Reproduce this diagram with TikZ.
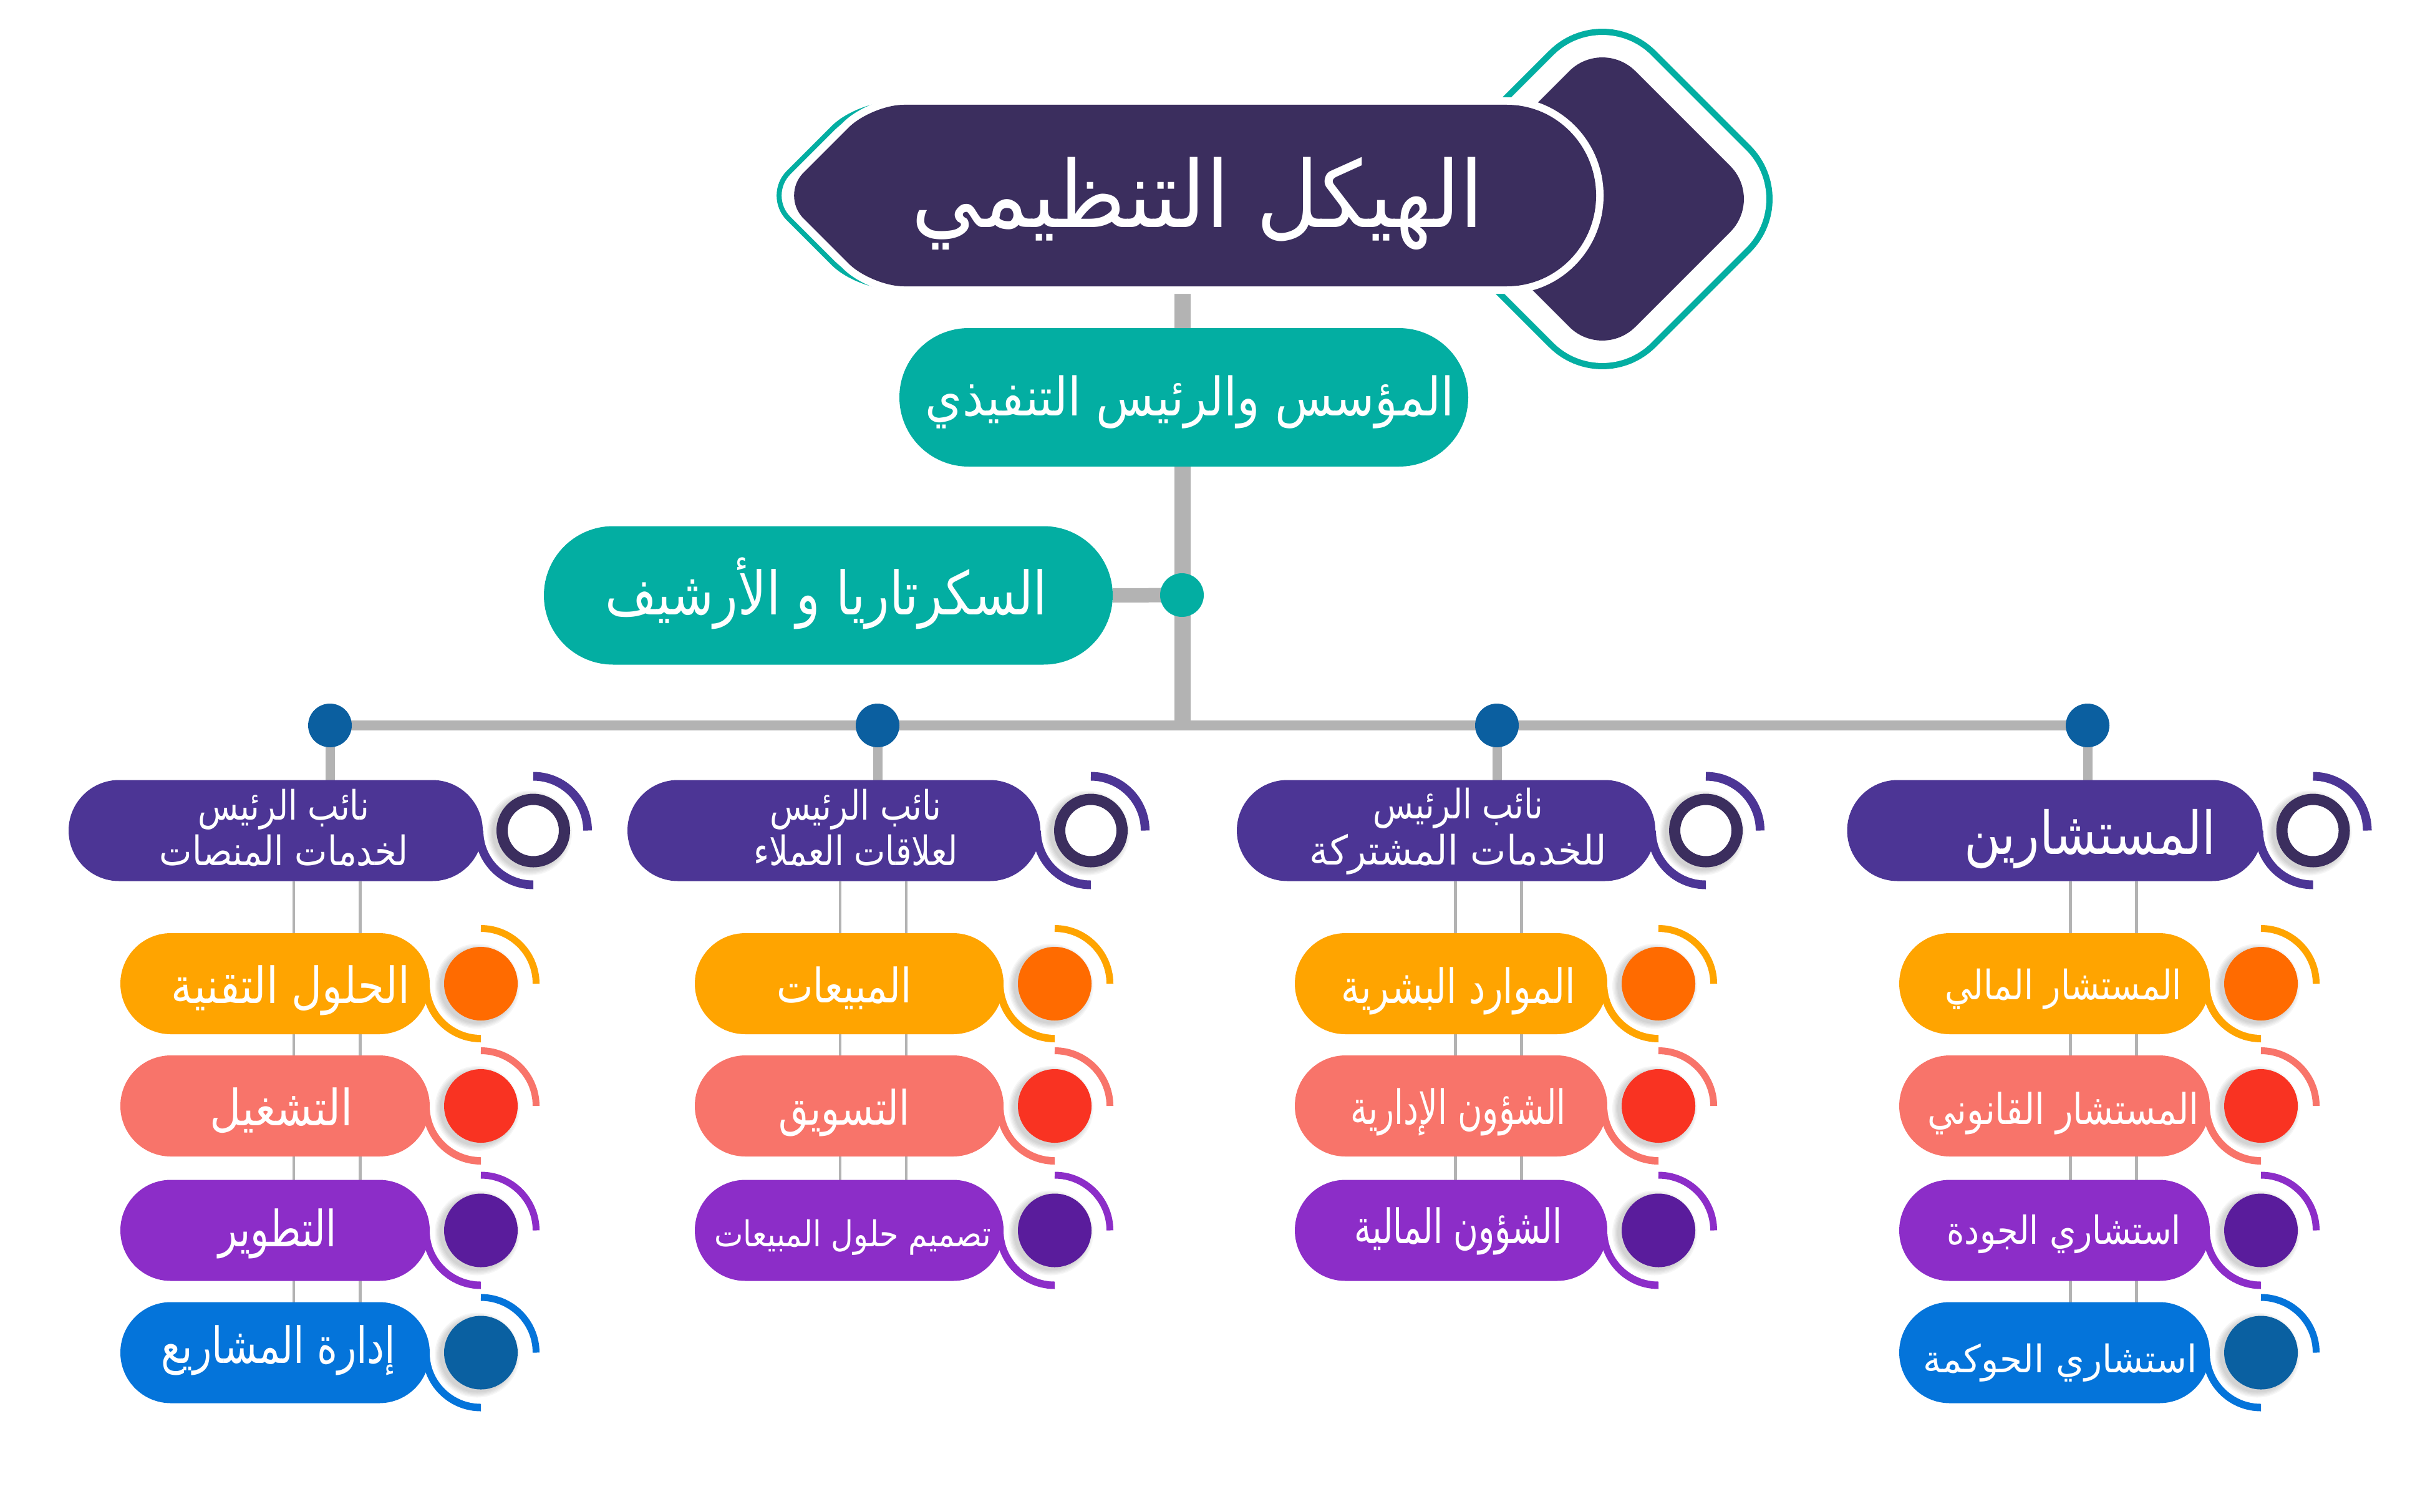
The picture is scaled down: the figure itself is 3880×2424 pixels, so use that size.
\documentclass[tikz,border=0pt]{standalone}
\usepackage{fontspec}
\usepackage{graphicx}
\usetikzlibrary{backgrounds}
\newfontfamily\arabicfont[Script=Arabic]{DejaVu Sans}
\TeXXeTstate=1
\definecolor{titlepurple}{HTML}{3B2E5E}
\definecolor{tealc}{HTML}{03AEA2}
\definecolor{headpurple}{HTML}{4C3595}
\definecolor{ringdark}{HTML}{3B2E5E}
\definecolor{greyline}{HTML}{B3B3B3}
\definecolor{dotblue}{HTML}{0B5FA0}
\definecolor{rowAf}{HTML}{FFA400}\definecolor{rowAc}{HTML}{FF6B00}
\definecolor{rowBf}{HTML}{F8746A}\definecolor{rowBc}{HTML}{F93322}
\definecolor{rowCf}{HTML}{8C2DC8}\definecolor{rowCc}{HTML}{5A1C9C}
\definecolor{rowDf}{HTML}{0474DA}\definecolor{rowDc}{HTML}{0A60A1}

% font size, target width, right-to-left text
\newcommand\artext[3]{\resizebox{#2pt}{\height}{\arabicfont\fontsize{#1}{#1}\selectfont #3}}

\tikzset{
  txt/.style={anchor=base, inner sep=0pt, outer sep=0pt, text=white},
  stadium/.style={rectangle, rounded corners=81pt, minimum height=162pt, inner sep=0pt, outer sep=0pt, draw=none},
  bigpill/.style={rectangle, rounded corners=111pt, minimum height=222pt, minimum width=912pt, inner sep=0pt, outer sep=0pt, draw=none, fill=tealc},
  busdot/.style={circle, fill=dotblue, minimum size=70pt, inner sep=0pt, outer sep=0pt, draw=none},
  thinline/.style={draw=greyline, line width=4.5pt},
}

% sub item: name, left x, circle cx, cy, fill colour, circle colour
\newcommand\drawsub[6]{%
  \pgfmathsetmacro\myR{#3-82}%
  \pgfmathsetmacro\mymx{(#2+\myR)/2}%
  \pgfmathsetmacro\myw{\myR-#2}%
  \node[stadium, fill=#5, minimum width=\myw pt] (#1) at (\mymx,#4) {};
  \fill[#5] (#3,#4) -- ++(-94,0) arc[start angle=180,end angle=270,radius=94pt] -- cycle;
  \fill[white] (#3,#4) circle[radius=82pt];
  \foreach \k in {1,...,5}{\fill[black,opacity=0.035] (#3-6,#4+4) circle[radius={58pt+2pt*\k}];}
  \fill[#6] (#3,#4) circle[radius=59pt];
  \draw[#5, line width=11pt] (#3+88.5,#4) arc[start angle=0,end angle=90,radius=88.5pt];
}
% header: name, left x, ring cx, cy
\newcommand\drawhead[4]{%
  \pgfmathsetmacro\myR{#3-81}%
  \pgfmathsetmacro\mymx{(#2+\myR)/2}%
  \pgfmathsetmacro\myw{\myR-#2}%
  \node[stadium, fill=headpurple, minimum width=\myw pt] (#1) at (\mymx,#4) {};
  \fill[headpurple] (#3,#4) -- ++(-94,0) arc[start angle=180,end angle=270,radius=94pt] -- cycle;
  \fill[white] (#3,#4) circle[radius=80pt];
  \foreach \k in {1,...,5}{\fill[black,opacity=0.035] (#3-6,#4+4) circle[radius={58pt+2pt*\k}];}
  \draw[ringdark, line width=18pt, fill=white] (#3,#4) circle[radius=50pt];
  \draw[headpurple, line width=14pt] (#3+87,#4) arc[start angle=0,end angle=90,radius=87pt];
}

\begin{document}
\begin{tikzpicture}[x=1pt,y=-1pt]
\useasboundingbox (0,0) rectangle (3880,2424);

% ---- diamond behind the title
\path[rounded corners=75pt, fill=titlepurple,
      preaction={draw=tealc, line width=92pt},
      preaction={draw=white, line width=72pt}]
  (2569,61) -- (2827,319) -- (2569,577) -- (2311,319) -- cycle;

% ---- teal outline at the left of the title
\draw[tealc, line width=8pt, xshift=-24pt]
  (1500,168) -- (1449,168) .. controls (1420.4,168) and (1380.4,184.6) .. (1360.2,204.8)
  -- (1288.3,276.7) .. controls (1268.1,296.9) and (1268.1,330.1) .. (1288.3,350.3)
  -- (1360.2,422.2) .. controls (1380.4,442.4) and (1420.4,459) .. (1449,459) -- (1500,459);

% ---- title shape
\path[fill=titlepurple, preaction={draw=white, line width=24pt}]
  (2416,168) -- (1449,168) .. controls (1420.4,168) and (1380.4,184.6) .. (1360.2,204.8)
  -- (1288.3,276.7) .. controls (1268.1,296.9) and (1268.1,330.1) .. (1288.3,350.3)
  -- (1360.2,422.2) .. controls (1380.4,442.4) and (1420.4,459) .. (1449,459)
  -- (2416,459) arc[start angle=-90, end angle=90, x radius=143pt, y radius=145.5pt] -- cycle;
\node[txt] (ttl) at (1920,364) {\artext{148}{918}{\beginR الهيكل التنظيمي\endR}};
\coordinate (barTop) at (1896,459);
\coordinate (barBot) at (1896,1163);

% ---- CEO and secretary
\node[bigpill] (ceo) at (1898,637) {};
\node[txt] (ceoT) at (1907.5,666) {\artext{85}{847}{\beginR المؤسس والرئيس التنفيذي\endR}};
\node[bigpill] (sec) at (1328,954.5) {};
\node[txt] (secT) at (1325,985) {\artext{96}{708}{\beginR السكرتاريا و الأرشيف\endR}};
\node[circle, fill=tealc, minimum size=70pt, inner sep=0pt, outer sep=0pt] (sdot) at (1895,954) {};

% ---- bus dots
\node[busdot] (d1) at (529,1163) {};
\node[busdot] (d2) at (1407,1163) {};
\node[busdot] (d3) at (2400,1163) {};
\node[busdot] (d4) at (3347,1163) {};

% ---- headers
\drawhead{h1}{110}{855}{1331.5}
\drawhead{h2}{1006}{1749}{1331.5}
\drawhead{h3}{1983}{2735}{1331.5}
\drawhead{h4}{2961.5}{3708.5}{1331.5}
\node[txt] (h1a) at (455,1314) {\artext{65}{274}{\beginR نائب الرئيس\endR}};
\node[txt] (h1b) at (455,1387) {\artext{65}{398}{\beginR لخدمات المنصات\endR}};
\node[txt] (h2a) at (1372,1314) {\artext{65}{275}{\beginR نائب الرئيس\endR}};
\node[txt] (h2b) at (1372,1387) {\artext{65}{327}{\beginR لعلاقات العملاء\endR}};
\node[txt] (h3a) at (2338,1312) {\artext{65}{273}{\beginR نائب الرئيس\endR}};
\node[txt] (h3b) at (2338,1386) {\artext{65}{477}{\beginR للخدمات المشتركة\endR}};
\node[txt] (h4a) at (3351,1369) {\artext{95}{404}{\beginR المستشارين\endR}};

% ---- column 1
\drawsub{s11}{193}{771}{1577}{rowAf}{rowAc}
\drawsub{s12}{193}{771}{1773}{rowBf}{rowBc}
\drawsub{s13}{193}{771}{1972.5}{rowCf}{rowCc}
\drawsub{s14}{193}{771}{2168.5}{rowDf}{rowDc}
\node[txt] (t11) at (466,1608) {\artext{80}{382}{\beginR الحلول التقنية\endR}};
\node[txt] (t12) at (451,1804) {\artext{80}{230}{\beginR التشغيل\endR}};
\node[txt] (t13) at (445,1998) {\artext{80}{189}{\beginR التطوير\endR}};
\node[txt] (t14) at (446.5,2185.5) {\artext{80}{376}{\beginR إدارة المشاريع\endR}};

% ---- column 2
\drawsub{s21}{1114}{1691}{1577}{rowAf}{rowAc}
\drawsub{s22}{1114}{1691}{1773}{rowBf}{rowBc}
\drawsub{s23}{1114}{1691}{1972.5}{rowCf}{rowCc}
\node[txt] (t21) at (1353.5,1607) {\artext{76}{217}{\beginR المبيعات\endR}};
\node[txt] (t22) at (1353.5,1803) {\artext{76}{211}{\beginR التسويق\endR}};
\node[txt] (t23) at (1367,1998.6) {\artext{57}{444}{\beginR تصميم حلول المبيعات\endR}};

% ---- column 3
\drawsub{s31}{2076}{2659}{1577}{rowAf}{rowAc}
\drawsub{s32}{2076}{2659}{1773}{rowBf}{rowBc}
\drawsub{s33}{2076}{2659}{1972.5}{rowCf}{rowCc}
\node[txt] (t31) at (2338,1608.6) {\artext{76}{375}{\beginR الموارد البشرية\endR}};
\node[txt] (t32) at (2338,1802.5) {\artext{76}{345}{\beginR الشؤون الإدارية\endR}};
\node[txt] (t33) at (2338,1993.4) {\artext{76}{333}{\beginR الشؤون المالية\endR}};

% ---- column 4
\drawsub{s41}{3045}{3625}{1577}{rowAf}{rowAc}
\drawsub{s42}{3045}{3625}{1773}{rowBf}{rowBc}
\drawsub{s43}{3045}{3625}{1972.5}{rowCf}{rowCc}
\drawsub{s44}{3045}{3625}{2168.5}{rowDf}{rowDc}
\node[txt] (t41) at (3308,1602.6) {\artext{65}{380}{\beginR المستشار المالي\endR}};
\node[txt] (t42) at (3308,1802.5) {\artext{68}{435}{\beginR المستشار القانوني\endR}};
\node[txt] (t43) at (3309,1994) {\artext{62}{375}{\beginR استشاري الجودة\endR}};
\node[txt] (t44) at (3303,2200.6) {\artext{61}{439}{\beginR استشاري الحوكمة\endR}};

% ---- line coordinates
\coordinate (l1a) at (471,1413);  \coordinate (l1b) at (577.5,1413);
\coordinate (l2a) at (1347,1413); \coordinate (l2b) at (1453,1413);
\coordinate (l3a) at (2333.5,1413); \coordinate (l3b) at (2439.5,1413);
\coordinate (l4a) at (3319.6,1413); \coordinate (l4b) at (3425.6,1413);

% ---- connectors behind everything
\begin{scope}[on background layer]
\fill[white] (0,0) rectangle (3880,2424);
\draw[greyline, line width=26pt] (barTop) -- (barBot);
\draw[greyline, line width=23pt] (sec.east) -- (sdot.center);
\draw[greyline, line width=16pt] (d1.center) -- (d4.center);
\foreach \dd/\hh in {d1/h1,d2/h2,d3/h3,d4/h4}
  \draw[greyline, line width=15pt] (\dd.center) -- (\hh.north -| \dd);
\draw[thinline] (l1a) -- (l1a |- s14.north);
\draw[thinline] (l1b) -- (l1b |- s14.north);
\draw[thinline] (l2a) -- (l2a |- s23.north);
\draw[thinline] (l2b) -- (l2b |- s23.north);
\draw[thinline] (l3a) -- (l3a |- s33.north);
\draw[thinline] (l3b) -- (l3b |- s33.north);
\draw[thinline] (l4a) -- (l4a |- s44.north);
\draw[thinline] (l4b) -- (l4b |- s44.north);
\end{scope}
\end{tikzpicture}
\end{document}
